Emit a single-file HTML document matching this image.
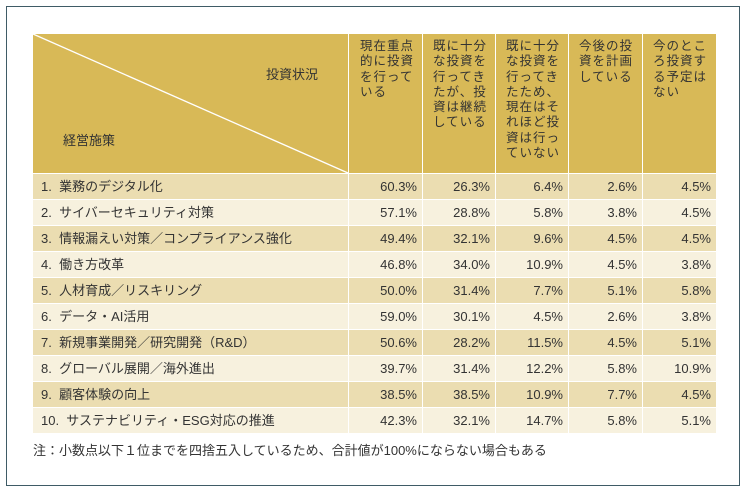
<!DOCTYPE html>
<html><head><meta charset="utf-8"><style>
body{margin:0;width:754px;height:491px;background:#fff;position:relative;overflow:hidden;font-family:"Liberation Sans","Noto Sans CJK JP",sans-serif;color:#333;}
.frame{position:absolute;left:6px;top:6px;width:732px;height:478px;border:1.5px solid #3f5b66;}
.hd{position:absolute;top:34px;height:139px;background:#d8b957;}
.c{position:absolute;font-size:13px;}
.ht{position:absolute;top:39px;font-size:12.5px;line-height:15.3px;letter-spacing:1px;}
.row{position:absolute;left:33px;width:683px;height:25px;}
.cell{position:absolute;top:0;height:25px;line-height:25px;font-size:13px;text-align:right;}
</style></head><body>
<div class="frame"></div>
<div class="hd" style="left:33px;width:315px"></div>
<div class="hd" style="left:349px;width:73px"></div>
<div class="hd" style="left:423px;width:72px"></div>
<div class="hd" style="left:496px;width:72px"></div>
<div class="hd" style="left:569px;width:73px"></div>
<div class="hd" style="left:643px;width:73px"></div>
<svg style="position:absolute;left:0;top:0" width="754" height="491"><line x1="33" y1="34" x2="348" y2="173" stroke="#fff" stroke-width="1.3"/></svg>
<div class="c" style="left:266px;top:64px">投資状況</div>
<div class="c" style="left:63px;top:130px">経営施策</div>
<div class="ht" style="left:360px">現在重点<br>的に投資<br>を行って<br>いる</div>
<div class="ht" style="left:433px">既に十分<br>な投資を<br>行ってき<br>たが、投<br>資は継続<br>している</div>
<div class="ht" style="left:506px">既に十分<br>な投資を<br>行ってき<br>たため、<br>現在はそ<br>れほど投<br>資は行っ<br>ていない</div>
<div class="ht" style="left:579px">今後の投<br>資を計画<br>している</div>
<div class="ht" style="left:653px">今のとこ<br>ろ投資す<br>る予定は<br>ない</div>
<div id="rows"></div>
<script>
var d=[["1.&nbsp; 業務のデジタル化","60.3%","26.3%","6.4%","2.6%","4.5%"],
["2.&nbsp; サイバーセキュリティ対策","57.1%","28.8%","5.8%","3.8%","4.5%"],
["3.&nbsp; 情報漏えい対策／コンプライアンス強化","49.4%","32.1%","9.6%","4.5%","4.5%"],
["4.&nbsp; 働き方改革","46.8%","34.0%","10.9%","4.5%","3.8%"],
["5.&nbsp; 人材育成／リスキリング","50.0%","31.4%","7.7%","5.1%","5.8%"],
["6.&nbsp; データ・AI活用","59.0%","30.1%","4.5%","2.6%","3.8%"],
["7.&nbsp; 新規事業開発／研究開発（R&amp;D）","50.6%","28.2%","11.5%","4.5%","5.1%"],
["8.&nbsp; グローバル展開／海外進出","39.7%","31.4%","12.2%","5.8%","10.9%"],
["9.&nbsp; 顧客体験の向上","38.5%","38.5%","10.9%","7.7%","4.5%"],
["10.&nbsp; サステナビリティ・ESG対応の推進","42.3%","32.1%","14.7%","5.8%","5.1%"]];
var rights=[384,457,530,604,678],lines=[315,389,462,535,609];
var h="";
d.forEach(function(r,i){
 h+='<div class="row" style="top:'+(174+i*26)+'px;background:'+(i%2?'#f7f1de':'#ebddb1')+'">';
 h+='<div class="cell" style="left:8px;text-align:left">'+r[0]+'</div>';
 for(var k=0;k<5;k++){h+='<div class="cell" style="left:0;width:'+rights[k]+'px">'+r[k+1]+'</div>';
 h+='<div style="position:absolute;top:0;left:'+lines[k]+'px;width:1px;height:25px;background:#fff"></div>';}
 h+='</div>';
});
document.getElementById('rows').innerHTML=h;
</script>
<div class="c" style="left:33px;top:440px">注：小数点以下１位までを四捨五入しているため、合計値が100%にならない場合もある</div>
</body></html>
